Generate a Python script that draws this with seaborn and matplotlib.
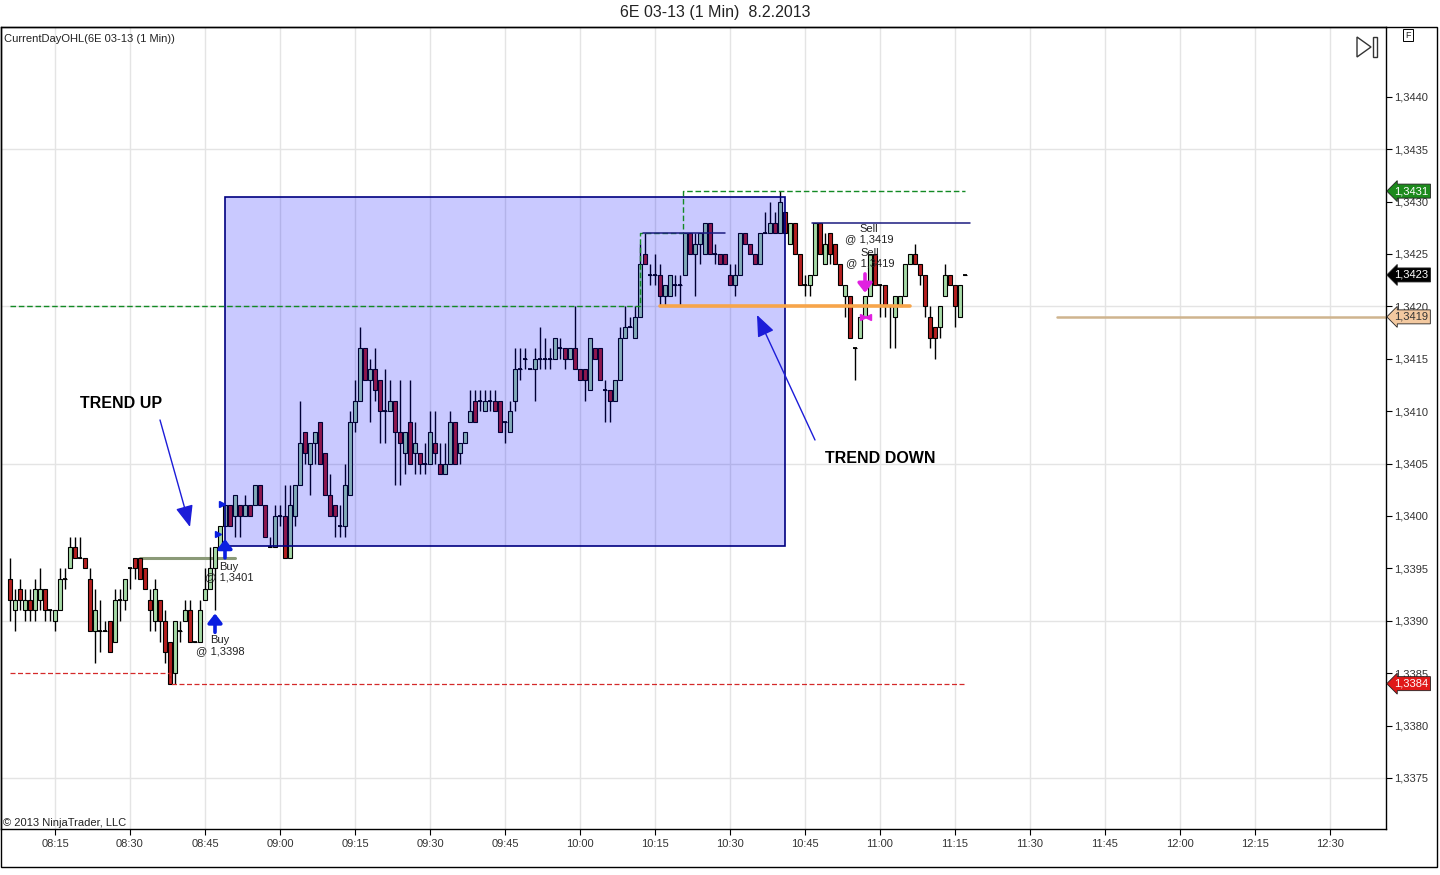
import numpy as np
import pandas as pd
import matplotlib
matplotlib.use("Agg")
import matplotlib.pyplot as plt
import seaborn as sns
from matplotlib.patches import Rectangle, Polygon
from matplotlib.ticker import FuncFormatter, FixedLocator

# 6E 03-13 1-min bars, 08:06 .. 11:17, prices in pips relative to 1.3400
open_pips = [
    -6, -9, -7, -9, -8, -9, -8, -7, -9, -10, -9, -6, -5, -3, -4, -4, -6, -11, -11, -11,
    -10, -12, -8, -8, -5, -4, -4, -5, -8, -10, -8, -10, -12, -15, -11, -10, -9, -12, -12, -8,
    -7, -5, -3,
    -1, 1, 0, 1, 0, 1, 1, 3, 1, -3, -3, 0, 0, -4, 0, 3, 8, 5, 7, 9,
    6, 2, 1, -1, -1, 2, 9, 11, 16, 13, 14, 13, 10, 10, 11, 8, 6, 9, 6, 6,
    5, 5, 7, 5,
    4, 5, 9, 6, 7, 9, 11, 11, 10, 11, 11, 11, 9, 8, 11, 14, 15, 14, 14, 15,
    15, 15, 15, 16, 16, 15, 16, 14, 14, 12, 16, 16, 12, 12, 11, 13, 17, 18, 17,
    19, 25, 23, 23, 23, 21, 21, 22, 22, 23, 27, 25, 26, 25, 28, 25, 25, 25, 23, 22,
    23, 27, 26, 25, 24, 27, 27, 28, 27, 29, 26, 28, 25, 22, 22, 23,
    28, 24, 27, 26, 24, 21, 21, 16, 17, 19, 21, 25, 22, 22, 20, 19, 20, 21, 24, 25,
    24, 23, 19, 18, 18, 21, 23, 22, 19, 23,
]
high_pips = [
    -4, -7, -6, -7, -7, -6, -5, -7, -9, -9, -5, -5, -2, -2, -2, -4, -5, -7, -8, -10,
    -10, -7, -7, -6, -5, -4, -4, -5, -7, -6, -8, -9, -12, -10, -10, -8, -8, -12, -8, -5,
    -3, -3, -1,
    1, 1, 2, 1, 2, 1, 3, 3, 1, -2, 1, 1, 3, 3, 3, 11, 8, 7, 8, 9,
    6, 4, 1, 1, 5, 10, 13, 18, 16, 15, 16, 13, 14, 13, 11, 13, 8, 13, 9, 6,
    7, 10, 10, 7,
    7, 10, 9, 7, 8, 12, 12, 12, 12, 12, 12, 11, 9, 11, 16, 16, 16, 14, 16, 18,
    17, 16, 17, 17, 16, 16, 20, 14, 14, 17, 16, 16, 13, 12, 13, 18, 20, 19, 20,
    26, 27, 24, 25, 24, 22, 23, 23, 23, 27, 27, 27, 27, 28, 28, 26, 25, 25, 24, 24,
    27, 27, 26, 25, 27, 29, 30, 29, 31, 29, 28, 28, 25, 23, 23, 28,
    28, 27, 27, 26, 24, 22, 21, 16, 19, 21, 25, 25, 22, 22, 20, 21, 21, 24, 25, 26,
    24, 23, 20, 18, 20, 24, 23, 22, 22, 23,
]
low_pips = [
    -10, -11, -9, -10, -10, -10, -9, -10, -10, -11, -9, -7, -5, -4, -4, -5, -11, -14, -13, -11,
    -13, -12, -10, -9, -7, -6, -6, -7, -11, -11, -12, -14, -16, -16, -12, -10, -12, -12, -12, -8,
    -7, -9, -3,
    -1, -1, -2, -2, 0, 0, 1, 1, -2, -3, -3, -1, -4, -4, -1, 3, 5, 2, 5, 5,
    2, 0, -2, -2, -2, 2, 8, 11, 13, 9, 11, 7, 7, 10, 3, 3, 4, 5, 4, 4,
    4, 5, 5, 4,
    4, 5, 5, 5, 7, 9, 9, 10, 10, 10, 10, 8, 7, 8, 10, 13, 14, 14, 11, 14,
    14, 14, 15, 15, 14, 15, 14, 13, 11, 12, 15, 13, 9, 9, 11, 13, 17, 18, 17,
    19, 24, 22, 22, 20, 20, 21, 21, 20, 23, 25, 21, 24, 25, 25, 24, 24, 24, 22, 21,
    23, 26, 25, 24, 24, 27, 27, 27, 27, 27, 26, 25, 22, 21, 21, 23,
    25, 24, 24, 24, 22, 19, 17, 13, 17, 19, 21, 22, 19, 19, 16, 16, 20, 21, 24, 24,
    22, 19, 16, 15, 17, 21, 22, 18, 19, 23,
]
close_pips = [
    -8, -8, -8, -8, -9, -7, -7, -9, -9, -9, -6, -6, -3, -4, -4, -5, -11, -9, -11, -11,
    -13, -8, -8, -6, -5, -5, -6, -7, -9, -7, -10, -13, -16, -10, -11, -9, -12, -12, -9, -7,
    -5, -3, -1,
    1, -1, 2, 0, 1, 0, 3, 1, -2, -3, 0, 0, -4, 1, 3, 7, 6, 7, 8, 5,
    2, 0, 0, -1, 3, 9, 11, 16, 13, 14, 12, 10, 10, 11, 8, 7, 8, 5, 7, 5,
    5, 8, 6, 4,
    5, 9, 5, 7, 8, 10, 9, 11, 11, 11, 10, 8, 9, 10, 14, 14, 15, 14, 15, 15,
    15, 15, 17, 16, 15, 16, 14, 13, 13, 17, 15, 13, 12, 11, 13, 17, 18, 18, 19,
    24, 24, 23, 23, 21, 22, 23, 22, 22, 27, 25, 26, 27, 28, 25, 25, 24, 24, 22, 23,
    27, 26, 25, 24, 27, 27, 28, 27, 30, 27, 28, 25, 22, 22, 23, 28,
    25, 26, 25, 24, 22, 22, 17, 16, 19, 21, 25, 22, 22, 20, 20, 21, 21, 24, 25, 24,
    23, 20, 17, 17, 20, 23, 22, 20, 22, 23,
]

BASE = 1.3400
PIP = 0.0001
FIRST_MINUTE = 6          # minutes after 08:00 of the first bar

# CurrentDayOHL step lines (minute after 08:00, price)
high_line_min = [6, 132, 140.6, 197]
high_line_px = [1.3420, 1.3427, 1.3431, 1.3431]
low_line_min = [6, 38, 197]
low_line_px = [1.3385, 1.3384, 1.3384]

# hand drawn objects
box_min = (49, 161)
box_px = (1.33971, 1.34304)
orange_line = ([136, 186], 1.3420)
navy_lines = [([132.6, 149], 1.3427), ([166.4, 198], 1.3428)]
olive_line = ([32, 51], 1.3396)
tan_line = ([215.4, 290], 1.3419)

price_tags = [("1,3431", 1.3431, "#1c8a1c", "white"),
              ("1,3423", 1.3423, "black", "white"),
              ("1,3419", 1.3419, "#f3c9a0", "#333333"),
              ("1,3384", 1.3384, "#e01818", "white")]

UP = "#a6daa6"
DOWN = "#b51f1f"

sns.set_theme(style="white")
plt.rcParams["font.family"] = ["Liberation Sans", "DejaVu Sans"]

df = pd.DataFrame({
    "minute": np.arange(FIRST_MINUTE, FIRST_MINUTE + len(open_pips)),
    "open": BASE + np.array(open_pips) * PIP,
    "high": BASE + np.array(high_pips) * PIP,
    "low": BASE + np.array(low_pips) * PIP,
    "close": BASE + np.array(close_pips) * PIP,
})

W, H = 1440, 875
fig = plt.figure(figsize=(W / 100, H / 100), dpi=100)
ax = fig.add_axes([1 / W, 1 - 829 / H, 1385 / W, 802 / H])
ax.set_xlim(4.2, 281.2)
ax.set_ylim(1.337013, 1.344666)

# grid
xticks = list(range(15, 271, 15))
for m in xticks:
    ax.axvline(m, color="#e4e4e4", lw=1, zorder=0)
for p in np.arange(1.3375, 1.3440, 0.0015):
    ax.axhline(p, color="#e4e4e4", lw=1, zorder=0)

# candles
body_lo = np.minimum(df["open"], df["close"])
body_h = (df["close"] - df["open"]).abs()
colors = np.where(df["close"] > df["open"], UP, DOWN)
ax.vlines(df["minute"], df["low"], df["high"], color="black", lw=1.0, zorder=3)
ax.bar(df["minute"], body_h, bottom=body_lo, width=0.8, color=colors,
       edgecolor="black", linewidth=0.8, zorder=4)
doji = body_h < 1e-9
ax.hlines(df["open"][doji], df["minute"][doji] - 0.45, df["minute"][doji] + 0.45,
          color="black", lw=1.3, zorder=4)

# trend box
ax.add_patch(Rectangle((box_min[0], box_px[0]), box_min[1] - box_min[0], box_px[1] - box_px[0],
                       facecolor=(0, 0, 1, 0.21), edgecolor="#000080", lw=1.2, zorder=5))

# current day high / low
sns.lineplot(x=high_line_min, y=high_line_px, ax=ax, drawstyle="steps-post", estimator=None,
             color="#138a24", lw=1.0, linestyle=(0, (4, 2)), zorder=6)
sns.lineplot(x=low_line_min, y=low_line_px, ax=ax, drawstyle="steps-post", estimator=None,
             color="#d42a2a", lw=0.9, linestyle=(0, (4, 2)), zorder=6)

ax.plot(orange_line[0], [orange_line[1]] * 2, color="#f7a54a", lw=2.6, zorder=6)
for xs, p in navy_lines:
    ax.plot(xs, [p, p], color="#1b1b80", lw=1.1, zorder=6)
ax.plot(olive_line[0], [olive_line[1]] * 2, color="#8b9a78", lw=2.2, zorder=2)
ax.plot(tan_line[0], [tan_line[1]] * 2, color="#cfb48e", lw=1.8, zorder=2)

# trend annotations
ax.text(20, 1.341069, "TREND UP", fontsize=11.5, fontweight="bold", va="center", ha="left",
        color="black")
ax.text(169, 1.340553, "TREND DOWN", fontsize=11.5, fontweight="bold", va="center", ha="left",
        color="black")
arrow = dict(arrowstyle="-|>,head_length=1.1,head_width=0.45", color="#1c1cd8", lw=1,
             shrinkA=0, shrinkB=0)
ax.annotate("", xy=(42, 1.339895), xytext=(36, 1.340916), arrowprops=arrow, zorder=7)
ax.annotate("", xy=(155.4, 1.341918), xytext=(167, 1.340725), arrowprops=arrow, zorder=7)

# executions
buy = dict(arrowstyle="-|>,head_length=0.45,head_width=0.35", color="#0a1ee0", lw=2.6,
           shrinkA=0, shrinkB=0)
ax.annotate("", xy=(47, 1.33907), xytext=(47, 1.33889), arrowprops=buy, zorder=8)
ax.annotate("", xy=(49, 1.33978), xytext=(49, 1.33960), arrowprops=buy, zorder=8)
sell = dict(arrowstyle="-|>,head_length=0.45,head_width=0.35", color="#e020e0", lw=2.6,
            shrinkA=0, shrinkB=0)
ax.annotate("", xy=(177, 1.34213), xytext=(177, 1.34231), arrowprops=sell, zorder=8)
ax.plot([176.5], [1.3419], marker=">", color="#e020e0", ms=5, zorder=8)
ax.plot([177.5], [1.3419], marker="<", color="#e020e0", ms=5, zorder=8)
ax.plot([47.6], [1.33983], marker=">", color="#0a1ee0", ms=4, zorder=8)
ax.plot([48.4], [1.34011], marker=">", color="#0a1ee0", ms=4, zorder=8)

exec_txt = dict(fontsize=8, ha="center", va="top", linespacing=1.05, color="#222222", zorder=8)
ax.text(48.0, 1.33886, "Buy\n@ 1,3398", **exec_txt)
ax.text(49.8, 1.33956, "Buy\n@ 1,3401", **exec_txt)
ax.text(177.8, 1.34279, "Sell\n@ 1,3419", **exec_txt)
ax.text(178.0, 1.34256, "Sell\n@ 1,3419", **exec_txt)

# axes styling
for s in ax.spines.values():
    s.set_color("black")
    s.set_linewidth(1)
ax.yaxis.tick_right()
ax.yaxis.set_major_locator(FixedLocator(np.arange(1.3375, 1.34401, 0.0005)))
ax.yaxis.set_major_formatter(FuncFormatter(lambda v, _: f"{v:.4f}".replace(".", ",")))
ax.xaxis.set_major_locator(FixedLocator(xticks))
ax.xaxis.set_major_formatter(FuncFormatter(lambda v, _: f"{8 + int(v) // 60:02d}:{int(v) % 60:02d}"))
ax.tick_params(axis="y", direction="out", length=4, width=0.8, pad=2, labelsize=8,
               colors="black", labelcolor="#333333", right=True, left=False)
ax.tick_params(axis="x", direction="out", length=4, width=0.8, pad=3, labelsize=8,
               colors="black", labelcolor="#333333", bottom=True)

for label, p, fc, tc in price_tags:
    ax.annotate(label, xy=(1, p), xycoords=("axes fraction", "data"), xytext=(6, 0),
                textcoords="offset points", ha="left", va="center", fontsize=8, color=tc,
                bbox=dict(boxstyle="larrow,pad=0.18", fc=fc, ec="#222222", lw=0.6),
                annotation_clip=False, zorder=10)

# figure texts and frame
fig.text(0.4965, 1 - 13 / H, "6E 03-13 (1 Min)  8.2.2013", ha="center", va="center",
         fontsize=11.5, color="#222222")
fig.text(4 / W, 1 - 39 / H, "CurrentDayOHL(6E 03-13 (1 Min))", ha="left", va="center",
         fontsize=8, color="#222222")
fig.text(3 / W, 1 - 823 / H, "\u00a9 2013 NinjaTrader, LLC", ha="left", va="center",
         fontsize=8, color="#222222")
fig.add_artist(Rectangle((1 / W, 1 - 867 / H), 1436 / W, 840 / H, transform=fig.transFigure,
                         fill=False, ec="black", lw=1))
fig.add_artist(Polygon([[1357 / W, 1 - 37 / H], [1357 / W, 1 - 57 / H], [1371 / W, 1 - 47 / H]],
                       closed=True, fill=False, ec="#333333", lw=1, transform=fig.transFigure))
fig.add_artist(Rectangle((1373 / W, 1 - 57 / H), 4 / W, 20 / H, fill=False, ec="#333333",
                         lw=1, transform=fig.transFigure))
fig.text(1408 / W, 1 - 35 / H, "F", fontsize=6.5, ha="center", va="center",
         bbox=dict(boxstyle="square,pad=0.2", fc="white", ec="black", lw=0.7))

fig.savefig("out.png", dpi=100)
